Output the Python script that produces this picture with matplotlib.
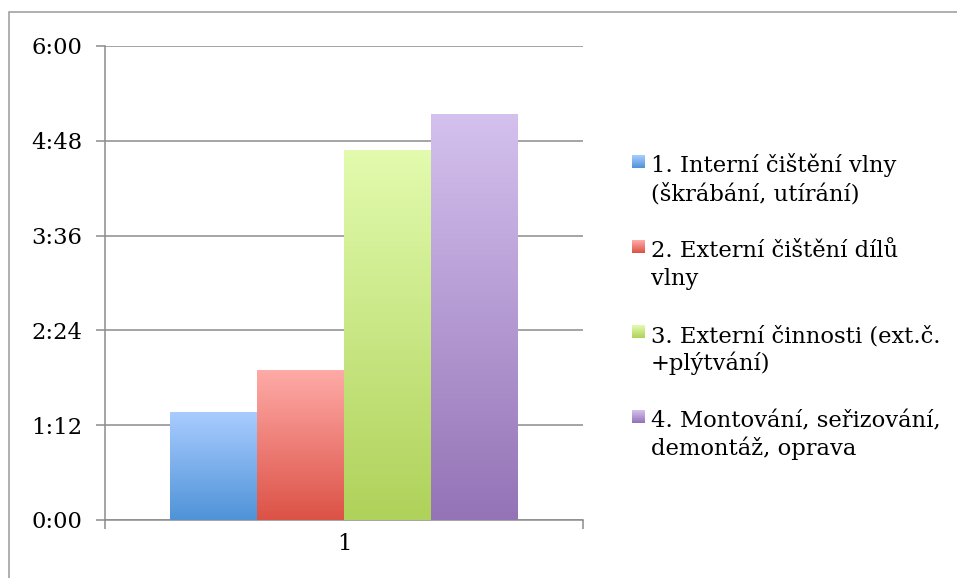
import numpy as np
import matplotlib
matplotlib.use("Agg")
import matplotlib.pyplot as plt
from matplotlib.colors import LinearSegmentedColormap
from matplotlib.patches import Rectangle
from matplotlib.ticker import FuncFormatter, MultipleLocator

# --- data (durations, m:ss) ---
categories = ["1"]
series_labels = [
    "1. Interní čištění vlny\n(škrábání, utírání)",
    "2. Externí čištění dílů\nvlny",
    "3. Externí činnosti (ext.č.\n+plýtvání)",
    "4. Montování, seřizování,\ndemontáž, oprava",
]
durations = ["1:22", "1:54", "4:41", "5:08"]
# gradient colours, top -> bottom
top_colors = ["#a9ccff", "#ffaba8", "#e2fbae", "#d4c1ee"]
bottom_colors = ["#4f93d8", "#dc5246", "#afd25a", "#9473b6"]

Y_MAX = 360   # 6:00 in seconds
Y_STEP = 72   # 1:12
FS = 16.3


def to_seconds(s):
    m, sec = s.split(":")
    return int(m) * 60 + int(sec)


values = [to_seconds(d) for d in durations]

W, H = 957, 578
plt.rcParams['font.family'] = ['DejaVu Serif']
fig = plt.figure(figsize=(W / 100, H / 100), dpi=100)


def px(x, y):
    # pixel (from top-left) -> figure fraction
    return x / W, 1 - y / H


# outer chart border (cut off at right/bottom like the screenshot)
fig.add_artist(Rectangle(px(9, 600), 1000 / W, 588 / H, transform=fig.transFigure,
                         fill=False, edgecolor="#9a9a9a", linewidth=1.1))

ax_l, ax_r, ax_t, ax_b = 105, 583, 46, 520
ax = fig.add_axes([ax_l / W, 1 - ax_b / H, (ax_r - ax_l) / W, (ax_b - ax_t) / H])

grey = "#8c8c8c"
n = len(values)
group_w = 0.728
bar_w = group_w / n
offsets = (np.arange(n) - (n - 1) / 2) * bar_w

for i, v in enumerate(values):
    bar = ax.bar(offsets[i], v, width=bar_w, color="none", linewidth=0, zorder=3)[0]
    cmap = LinearSegmentedColormap.from_list(f"g{i}", [bottom_colors[i], top_colors[i]])
    grad = np.linspace(0, 1, 256).reshape(-1, 1)
    x0 = offsets[i] - bar_w / 2
    im = ax.imshow(grad, cmap=cmap, origin="lower", aspect="auto",
                   extent=[x0, x0 + bar_w, 0, v], zorder=3, interpolation="bicubic")
    im.set_clip_path(bar)

ax.set_xlim(-0.5, 0.5)
ax.set_ylim(0, Y_MAX)

ax.yaxis.set_major_locator(MultipleLocator(Y_STEP))
ax.yaxis.set_major_formatter(FuncFormatter(lambda s, _: f"{int(s) // 60}:{int(s) % 60:02d}"))
ax.grid(axis="y", color=grey, linewidth=1.1, zorder=1)
ax.set_axisbelow(True)

ax.set_xticks([0])
ax.set_xticklabels(categories)
ax.set_xticks([-0.5, 0.5], minor=True)
ax.tick_params(axis="x", which="major", length=0, pad=9, labelsize=FS)
ax.tick_params(axis="x", which="minor", length=6.5, width=1.1, color=grey, direction="out")
ax.tick_params(axis="y", length=6.5, width=1.1, color=grey, direction="out", pad=10, labelsize=FS)

for side in ["top", "right"]:
    ax.spines[side].set_visible(False)
for side in ["left", "bottom"]:
    ax.spines[side].set_color(grey)
    ax.spines[side].set_linewidth(1.1)

# legend drawn by hand: square handle next to first line of each label
entry_y0 = 172    # baseline of first entry, px
entry_gap = 85
line_gap = 28
for i, label in enumerate(series_labels):
    base = entry_y0 + i * entry_gap
    hx, hy = px(632, base - 4)
    hax = fig.add_axes([hx, hy, 13 / W, 13 / H])
    cmap = LinearSegmentedColormap.from_list(f"h{i}", [bottom_colors[i], top_colors[i]])
    hax.imshow(np.linspace(0, 1, 32).reshape(-1, 1), cmap=cmap, origin="lower", aspect="auto")
    hax.axis("off")
    for j, line in enumerate(label.split("\n")):
        tx, ty = px(651, base + j * line_gap)
        fig.text(tx, ty, line, fontsize=FS, va="baseline", ha="left")

fig.savefig("out.png", dpi=100)
